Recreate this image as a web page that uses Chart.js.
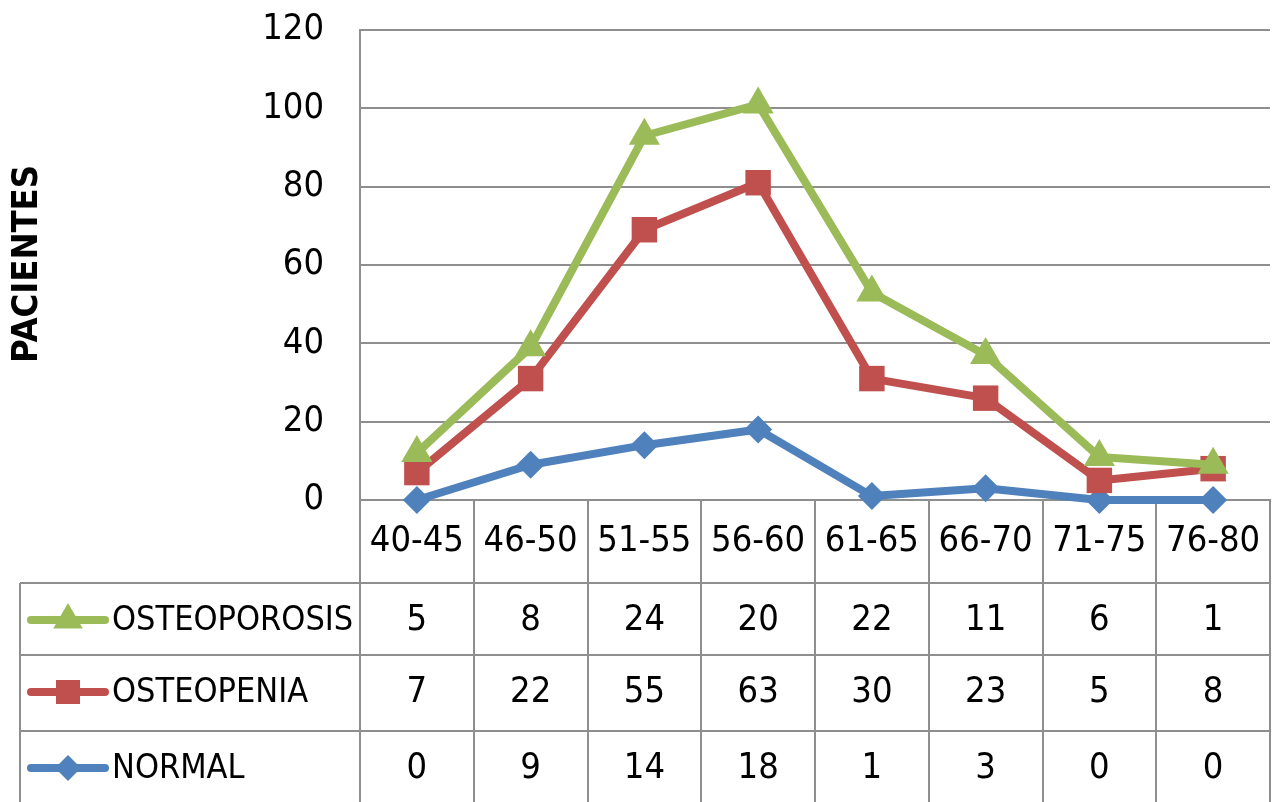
<!DOCTYPE html>
<html>
<head>
<meta charset="utf-8">
<script src="https://cdn.jsdelivr.net/npm/chart.js@4/dist/chart.umd.min.js"></script>
<style>
  html, body { margin: 0; padding: 0; background: #ffffff; }
  #wrap { width: 1275px; height: 802px; }
</style>
</head>
<body>
<div id="wrap"><canvas id="c" width="1275" height="802"></canvas></div>
<script>
// Age groups (years) and patient counts per diagnosis
const categories = ['40-45', '46-50', '51-55', '56-60', '61-65', '66-70', '71-75', '76-80'];
const normal = [0, 9, 14, 18, 1, 3, 0, 0];
const osteopenia = [7, 22, 55, 63, 30, 23, 5, 8];
const osteoporosis = [5, 8, 24, 20, 22, 11, 6, 1];
const yTicks = [0, 20, 40, 60, 80, 100, 120];

const FONT = '"DejaVu Sans Condensed", "Liberation Sans Narrow", "Liberation Sans", sans-serif';
const NUM_SIZE = 36;
const GRID = '#8e8e8e';
const LINE_W = 8;

const GREEN = '#9BBB59', RED = '#C0504D', BLUE = '#4F81BD';

// Lines are stacked: each series sits on top of the ones below it
const datasets = [
  { label: 'NORMAL', data: normal, borderColor: BLUE, backgroundColor: BLUE,
    pointStyle: 'rectRot', pointRadius: 14 },
  { label: 'OSTEOPENIA', data: osteopenia, borderColor: RED, backgroundColor: RED,
    pointStyle: 'rect', pointRadius: 18 },
  { label: 'OSTEOPOROSIS', data: osteoporosis, borderColor: GREEN, backgroundColor: GREEN,
    pointStyle: 'triangle', pointRadius: 18 }
].map(d => Object.assign(d, {
  borderWidth: LINE_W, tension: 0, fill: false, clip: false,
  pointBorderWidth: 0, pointHoverRadius: d.pointRadius,
  borderJoinStyle: 'round', borderCapStyle: 'round'
}));

// Data table under the plot, rows listed top to bottom
const tableRows = [2, 1, 0];

const tablePlugin = {
  id: 'dataTable',
  beforeDatasetsDraw(chart) {
    const { ctx, chartArea, scales: { x } } = chart;
    const colW = x.getPixelForValue(1) - x.getPixelForValue(0);
    const left = chartArea.left, right = chartArea.right, top = chartArea.bottom;
    const bottom = chart.height;
    const tableLeft = 20;
    const rowTop = [583, 655, 731];
    const rowH = 74;

    ctx.save();
    ctx.strokeStyle = GRID;
    ctx.lineWidth = 2;
    ctx.beginPath();
    for (let i = 0; i <= categories.length; i++) {
      const px = Math.round(left + i * colW);
      ctx.moveTo(px, top);
      ctx.lineTo(px, bottom);
    }
    ctx.moveTo(tableLeft, rowTop[0]);
    ctx.lineTo(tableLeft, bottom);
    rowTop.forEach(y => { ctx.moveTo(tableLeft, y); ctx.lineTo(right, y); });
    ctx.stroke();

    tableRows.forEach((dsIndex, r) => {
      const ds = chart.data.datasets[dsIndex];
      const cy = rowTop[r] + rowH / 2;
      // legend key: line segment with marker
      ctx.strokeStyle = ds.borderColor;
      ctx.lineWidth = LINE_W;
      ctx.lineCap = 'round';
      ctx.beginPath();
      ctx.moveTo(31, cy);
      ctx.lineTo(105, cy);
      ctx.stroke();
      ctx.fillStyle = ds.backgroundColor;
      Chart.helpers.drawPoint(ctx, {
        pointStyle: ds.pointStyle, radius: ds.pointStyle === 'rectRot' ? 13 : 17,
        rotation: 0, borderWidth: 0
      }, 68, cy);

      ctx.fillStyle = '#000';
      ctx.textBaseline = 'middle';
      ctx.textAlign = 'left';
      ctx.font = '34px ' + FONT;
      ctx.fillText(ds.label, 112, cy + 1);

      ctx.textAlign = 'center';
      ctx.font = NUM_SIZE + 'px ' + FONT;
      ds.data.forEach((v, i) => {
        ctx.fillText(String(v), x.getPixelForValue(i), cy + 1);
      });
    });
    ctx.restore();

    // Draw series so that later ones sit on top of earlier ones
    chart.getSortedVisibleDatasetMetas().slice().sort((a, b) => a.index - b.index)
      .forEach(meta => meta.controller.draw());
    return false;
  },
  afterDraw(chart) {
    const { ctx } = chart;
    ctx.save();
    ctx.translate(28, 264);
    ctx.rotate(-Math.PI / 2);
    ctx.fillStyle = '#000';
    ctx.font = 'bold 36px ' + FONT;
    ctx.textAlign = 'center';
    ctx.textBaseline = 'middle';
    ctx.fillText('PACIENTES', 0, 0);
    ctx.restore();
  }
};

new Chart(document.getElementById('c'), {
  type: 'line',
  data: { labels: categories, datasets },
  options: {
    responsive: false,
    animation: false,
    events: [],
    layout: { autoPadding: false, padding: { left: 0, right: 5, top: 30, bottom: 0 } },
    plugins: { legend: { display: false }, tooltip: { enabled: false } },
    scales: {
      x: {
        offset: true,
        grid: { display: false, drawTicks: false },
        border: { display: true, color: GRID, width: 2 },
        ticks: { color: '#000', font: { family: FONT, size: NUM_SIZE }, padding: 20, maxRotation: 0, autoSkip: false },
        afterFit(scale) {
          scale.height = 302;
          scale.paddingLeft = 0; scale.paddingRight = 0;
        }
      },
      y: {
        stacked: true,
        min: yTicks[0],
        max: yTicks[yTicks.length - 1],
        afterBuildTicks(scale) { scale.ticks = yTicks.map(v => ({ value: v })); },
        grid: { color: GRID, lineWidth: 2, drawTicks: false },
        border: { display: true, color: GRID, width: 2 },
        ticks: { color: '#000', font: { family: FONT, size: NUM_SIZE }, padding: 36 },
        afterFit(scale) {
          scale.width = 360;
          scale.paddingTop = 0; scale.paddingBottom = 0;
        }
      }
    }
  },
  plugins: [tablePlugin]
});
</script>
</body>
</html>
